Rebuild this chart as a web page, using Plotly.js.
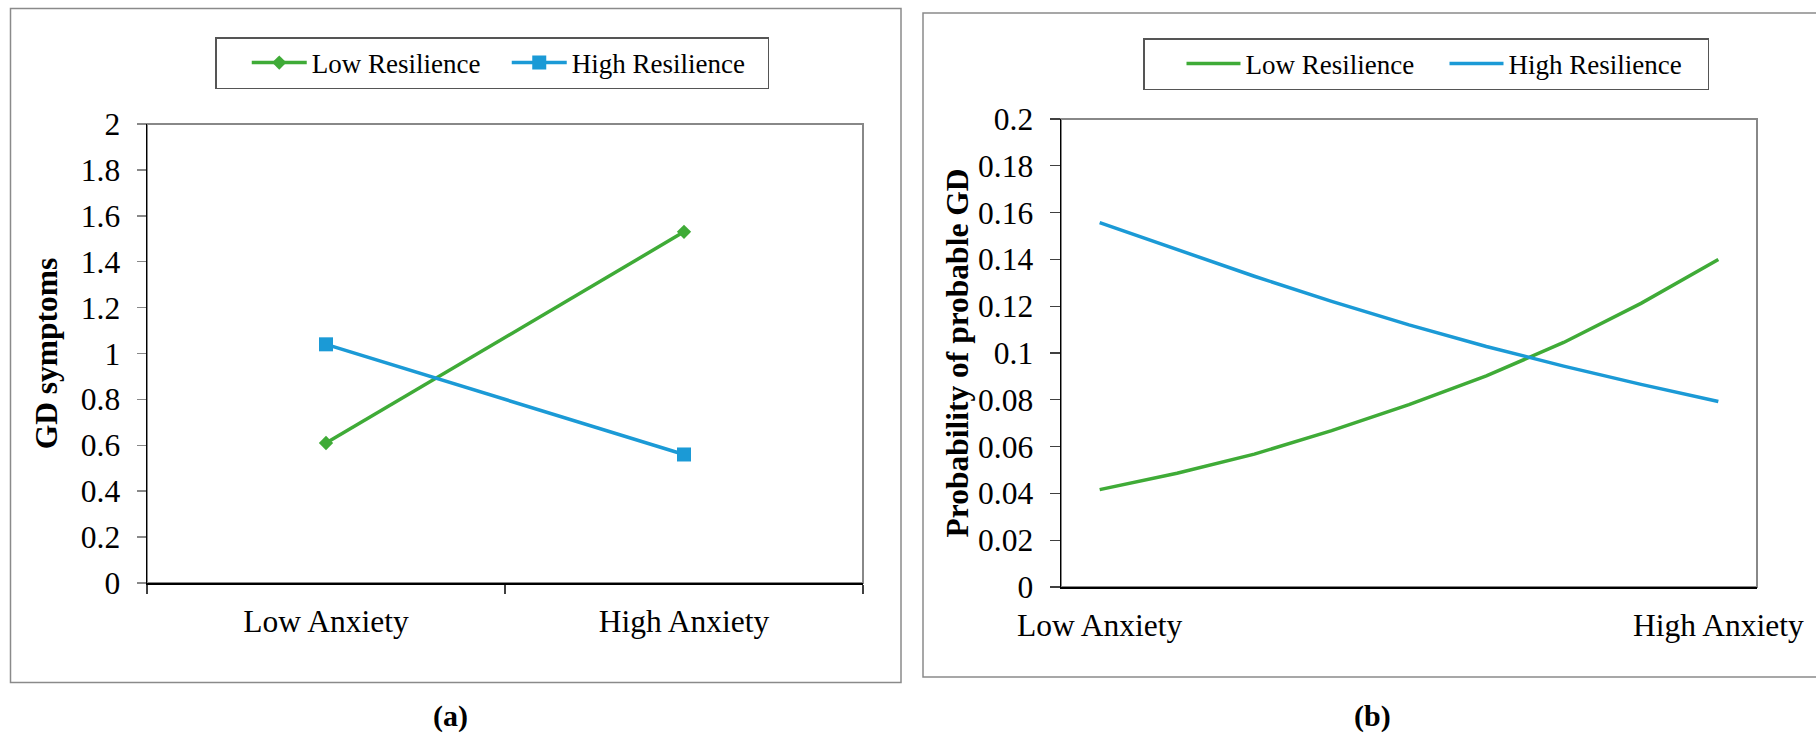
<!DOCTYPE html>
<html>
<head>
<meta charset="utf-8">
<script src="https://cdn.plot.ly/plotly-3.0.1.min.js"></script>
<style>
  html, body { margin: 0; padding: 0; background: #ffffff; }
  #chart { width: 1816px; height: 737px; }
</style>
</head>
<body>
<div id="chart"></div>
<script>
// ---------- Data: panel (a) ----------
const categoriesA = ["Low Anxiety", "High Anxiety"];
const lowResilienceA = [0.61, 1.53];
const highResilienceA = [1.04, 0.56];

// ---------- Data: panel (b) ----------
const anxietyLevelsB = [1, 2, 3, 4, 5, 6, 7, 8, 9];
const lowResilienceB = [0.0416, 0.0486, 0.0568, 0.0668, 0.0779, 0.0902, 0.1045, 0.1212, 0.1400];
const highResilienceB = [0.1557, 0.1442, 0.1328, 0.1221, 0.1120, 0.1028, 0.0944, 0.0866, 0.0793];
const tickPositionsB = [1, 9];
const tickLabelsB = ["Low Anxiety", "High Anxiety"];

const seriesNames = ["Low Resilience", "High Resilience"];
const panelLabels = ["(a)", "(b)"];
const yTitles = ["GD symptoms", "Probability of probable GD"];

// ---------- Styling ----------
const W = 1816, H = 737;
const FONT = '"Liberation Serif", "Times New Roman", serif';
const GREEN = "#3fab37";
const BLUE = "#1b9ad6";
const px = v => v / W;
const py = v => 1 - v / H;

const traces = [
  {
    x: categoriesA, y: lowResilienceA, name: seriesNames[0],
    type: "scatter", mode: "lines+markers",
    line: { color: GREEN, width: 3.5 },
    marker: { symbol: "diamond", size: 11, color: GREEN },
    xaxis: "x", yaxis: "y", legend: "legend"
  },
  {
    x: categoriesA, y: highResilienceA, name: seriesNames[1],
    type: "scatter", mode: "lines+markers",
    line: { color: BLUE, width: 3.5 },
    marker: { symbol: "square", size: 14, color: BLUE },
    xaxis: "x", yaxis: "y", legend: "legend"
  },
  {
    x: anxietyLevelsB, y: lowResilienceB, name: seriesNames[0],
    type: "scatter", mode: "lines",
    line: { color: GREEN, width: 3.5 },
    xaxis: "x2", yaxis: "y2", legend: "legend2"
  },
  {
    x: anxietyLevelsB, y: highResilienceB, name: seriesNames[1],
    type: "scatter", mode: "lines",
    line: { color: BLUE, width: 3.5 },
    xaxis: "x2", yaxis: "y2", legend: "legend2"
  }
];

const tickFont = { family: FONT, size: 31.5, color: "#000000" };
const titleFont = { family: FONT, size: 31.5, color: "#000000" };
const legendFont = { family: FONT, size: 27, color: "#000000" };
const NB = "\u00a0";

const layout = {
  width: W, height: H,
  margin: { l: 0, r: 0, t: 0, b: 0, pad: 0 },
  paper_bgcolor: "#ffffff",
  plot_bgcolor: "#ffffff",
  font: { family: FONT, color: "#000000" },
  showlegend: true,
  xaxis: {
    domain: [px(147), px(863)],
    type: "category",
    range: [-0.5, 1.5],
    showgrid: false, zeroline: false,
    showline: true, linecolor: "#000000", linewidth: 1.5,
    ticks: "outside", tickson: "boundaries", ticklen: 9, tickwidth: 1.2, tickcolor: "#404040",
    ticklabelstandoff: 10,
    tickfont: tickFont,
    fixedrange: true
  },
  yaxis: {
    domain: [py(583), py(124)],
    range: [0, 2],
    dtick: 0.2, tick0: 0,
    showgrid: false, zeroline: false,
    showline: true, linecolor: "#000000", linewidth: 1.5,
    ticks: "outside", ticklen: 9, tickwidth: 1.5, tickcolor: "#888888",
    ticklabelstandoff: 10,
    tickfont: tickFont,
    title: { text: "<b>" + yTitles[0] + "</b>", font: titleFont, standoff: 14 },
    fixedrange: true
  },
  xaxis2: {
    domain: [px(1061), px(1757)],
    anchor: "y2",
    range: [0.5, 9.5],
    tickmode: "array", tickvals: tickPositionsB, ticktext: tickLabelsB,
    showgrid: false, zeroline: false,
    showline: true, linecolor: "#000000", linewidth: 1.5,
    ticks: "",
    ticklabelstandoff: 10,
    tickfont: tickFont,
    fixedrange: true
  },
  yaxis2: {
    domain: [py(587), py(119)],
    anchor: "x2",
    range: [0, 0.2],
    dtick: 0.02, tick0: 0,
    showgrid: false, zeroline: false,
    showline: true, linecolor: "#000000", linewidth: 1.5,
    ticks: "outside", ticklen: 10, tickwidth: 1.2, tickcolor: "#404040",
    ticklabelstandoff: 10,
    tickfont: tickFont,
    title: { text: "<b>" + yTitles[1] + "</b>", font: titleFont, standoff: 0 },
    fixedrange: true
  },
  legend: {
    x: px(215), y: py(37), xanchor: "left", yanchor: "top",
    orientation: "h",
    bgcolor: "#ffffff", bordercolor: "#555555", borderwidth: 1.5,
    font: legendFont,
    title: { text: NB + NB + NB, side: "left", font: legendFont },
    itemwidth: 55,
    entrywidth: 190, entrywidthmode: "pixels",
    itemclick: false, itemdoubleclick: false
  },
  legend2: {
    x: px(1143), y: py(38), xanchor: "left", yanchor: "top",
    orientation: "h",
    bgcolor: "#ffffff", bordercolor: "#555555", borderwidth: 1.5,
    font: legendFont,
    title: { text: NB + NB + NB + NB, side: "left", font: legendFont },
    itemwidth: 54,
    entrywidth: 194, entrywidthmode: "pixels",
    itemclick: false, itemdoubleclick: false
  },
  shapes: [
    // plot-area frames (grey top/right edges)
    { type: "rect", xref: "x domain", yref: "y domain", x0: 0, x1: 1, y0: 0, y1: 1,
      line: { color: "#888888", width: 2 }, layer: "below" },
    { type: "rect", xref: "x2 domain", yref: "y2 domain", x0: 0, x1: 1, y0: 0, y1: 1,
      line: { color: "#888888", width: 2 }, layer: "below" },
    // outer panel frames
    { type: "rect", xref: "paper", yref: "paper",
      x0: px(10.5), x1: px(901), y0: py(682.5), y1: py(8.5),
      line: { color: "#8a8a8a", width: 1.5 }, layer: "below" },
    { type: "rect", xref: "paper", yref: "paper",
      x0: px(923), x1: px(1830), y0: py(677), y1: py(13),
      line: { color: "#8a8a8a", width: 1.5 }, layer: "below" }
  ],
  annotations: [
    { text: "<b>" + panelLabels[0] + "</b>", xref: "paper", yref: "paper",
      x: px(450), y: py(716), xanchor: "center", yanchor: "middle", showarrow: false,
      font: { family: FONT, size: 30, color: "#000000" } },
    { text: "<b>" + panelLabels[1] + "</b>", xref: "paper", yref: "paper",
      x: px(1372), y: py(716), xanchor: "center", yanchor: "middle", showarrow: false,
      font: { family: FONT, size: 30, color: "#000000" } }
  ]
};

Plotly.newPlot("chart", traces, layout, { staticPlot: true, displayModeBar: false });
</script>
</body>
</html>
